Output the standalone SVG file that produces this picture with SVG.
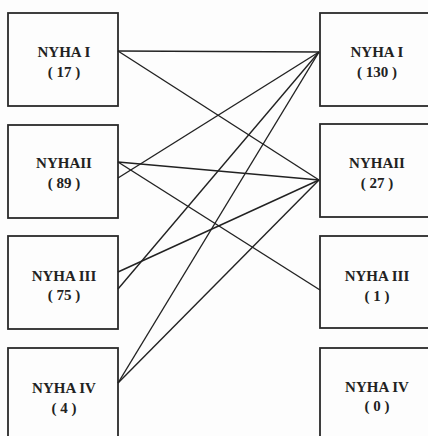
<svg xmlns="http://www.w3.org/2000/svg" width="428" height="436" viewBox="0 0 428 436">
<style>
.box{fill:none;stroke:#2a2a2a;stroke-width:1.8}
.t{font-family:"Liberation Serif","Times New Roman",serif;font-weight:bold;font-size:15px;fill:#222;text-anchor:middle}
.c line{stroke:#222;stroke-width:1.4}
</style>
<rect width="428" height="436" fill="#fdfdfd"/>
<g id="L1"><rect class="box" x="8" y="13" width="110" height="93"/><text class="t" x="64" y="57">NYHA I</text><text class="t" x="64" y="77">( 17 )</text></g>
<g id="L2"><rect class="box" x="8" y="125" width="110" height="93"/><text class="t" x="64" y="168">NYHAII</text><text class="t" x="64" y="188">( 89 )</text></g>
<g id="L3"><rect class="box" x="8" y="236" width="110" height="93"/><text class="t" x="64" y="281">NYHA III</text><text class="t" x="64" y="300">( 75 )</text></g>
<g id="L4"><rect class="box" x="8" y="348" width="110" height="100"/><text class="t" x="64" y="393">NYHA IV</text><text class="t" x="64" y="413">( 4 )</text></g>
<g id="R1"><rect class="box" x="320" y="13" width="120" height="93"/><text class="t" x="377" y="57">NYHA I</text><text class="t" x="377" y="77">( 130 )</text></g>
<g id="R2"><rect class="box" x="320" y="124" width="120" height="93"/><text class="t" x="377" y="168">NYHAII</text><text class="t" x="377" y="188">( 27 )</text></g>
<g id="R3"><rect class="box" x="320" y="236" width="120" height="92"/><text class="t" x="377" y="281">NYHA III</text><text class="t" x="377" y="301">( 1 )</text></g>
<g id="R4"><rect class="box" x="320" y="348" width="120" height="100"/><text class="t" x="377" y="392">NYHA IV</text><text class="t" x="377" y="411">( 0 )</text></g>
<g id="connectors" class="c">
<line x1="118" y1="51" x2="319" y2="52"/>
<line x1="118" y1="51" x2="319" y2="180"/>
<line x1="118" y1="162" x2="319" y2="180"/>
<line x1="118" y1="162" x2="320" y2="290"/>
<line x1="118" y1="178" x2="319" y2="52"/>
<line x1="118" y1="272" x2="319" y2="180"/>
<line x1="118" y1="289" x2="319" y2="52"/>
<line x1="118" y1="383" x2="319" y2="52"/>
<line x1="118" y1="383" x2="319" y2="180"/>
</g>
</svg>
